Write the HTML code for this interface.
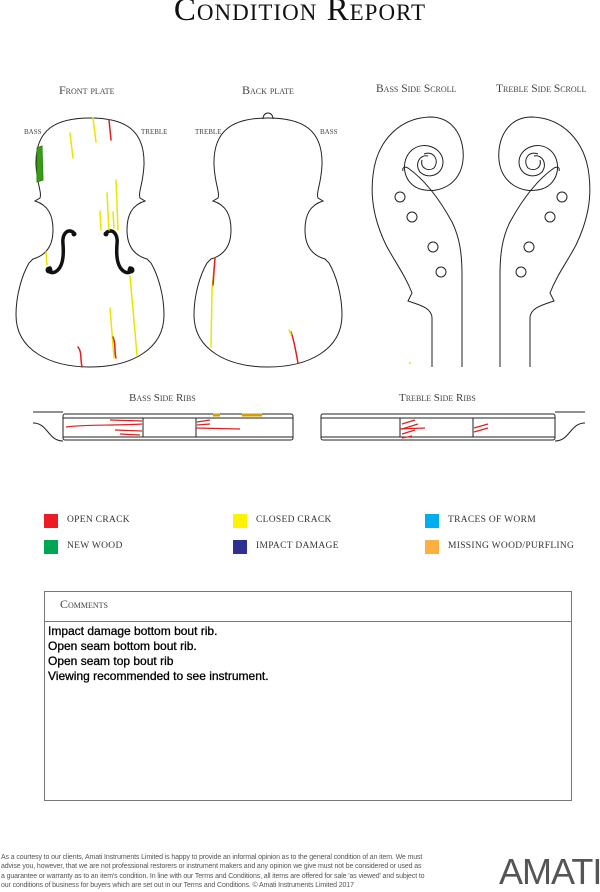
<!DOCTYPE html>
<html><head><meta charset="utf-8"><style>
html,body{margin:0;padding:0;background:#fff;}
body{width:600px;height:890px;position:relative;overflow:hidden;font-family:"Liberation Serif",serif;}
.sc{font-variant:small-caps;color:#444;position:absolute;white-space:nowrap;}
.t{position:absolute;}
.sq{position:absolute;width:14px;height:14px;}
.lg{position:absolute;font-family:"Liberation Serif",serif;font-size:9.5px;color:#333;letter-spacing:0.3px;}
</style></head><body>
<div class="sc" style="left:0;width:600px;text-align:center;top:-8px;font-size:33px;color:#111;letter-spacing:1px;">Condition Report</div>
<div class="sc" style="left:59px;top:83px;font-size:12px;">Front plate</div>
<div class="sc" style="left:242px;top:83px;font-size:12px;">Back plate</div>
<div class="sc" style="left:376px;top:83px;font-size:11.5px;">Bass Side Scroll</div>
<div class="sc" style="left:496px;top:83px;font-size:11.5px;">Treble Side Scroll</div>
<div class="sc" style="left:24px;top:128px;font-size:7px;">BASS</div>
<div class="sc" style="left:141px;top:128px;font-size:7px;">TREBLE</div>
<div class="sc" style="left:195px;top:128px;font-size:7px;">TREBLE</div>
<div class="sc" style="left:320px;top:128px;font-size:7px;">BASS</div>
<div class="sc" style="left:129px;top:392px;font-size:11px;">Bass Side Ribs</div>
<div class="sc" style="left:399px;top:392px;font-size:11px;">Treble Side Ribs</div>

<svg width="600" height="890" style="position:absolute;left:0;top:0" xmlns="http://www.w3.org/2000/svg">
<defs>
<path id="vio" d="M90 118 C125 118 145 130 144 165 C143 185 138 192 140 198 L145 201 C132 205 127 215 127 230 C127 245 133 255 147 259 L151 263 C158 275 164 295 164 315 C164 350 130 367 90 367 C50 367 16 350 16 315 C16 295 22 275 29 263 L33 259 C47 255 53 245 53 230 C53 215 48 205 35 201 L40 198 C42 192 37 185 36 165 C35 130 55 118 90 118 Z" fill="none" stroke="#222" stroke-width="1"/>
<g id="scroll" fill="none" stroke="#222" stroke-width="1">
<path d="M432 367 L432 318 C432 308 420 305 408 301 L412 293 C405 275 395 262 386 245 C375 222 370 200 373 175 C377 140 400 118 430 117 C455 117 465 140 463 160 C461 183 440 195 420 189 C402 183 400 160 412 150 C424 140 443 148 443 162 C443 175 428 180 420 172 C414 164 420 154 428 156"/>
<path d="M424 154 C433 150 440 160 434 168 C428 172 420 168 422 160"/>
<path d="M403 171 C402 168 404 166 408 168 C425 180 440 200 452 222 C460 238 462 255 462 275 L462 367"/>
<circle cx="400" cy="197" r="5"/><circle cx="412" cy="217" r="5"/><circle cx="433" cy="247" r="5"/><circle cx="441" cy="272" r="5"/>
</g>
</defs>
<use href="#vio"/>
<use href="#vio" transform="translate(178,0)"/>
<path d="M263 119 C263 111 273 111 273 119" fill="none" stroke="#222"/>
<g fill="none" stroke="#111" stroke-width="3.5" stroke-linecap="round">
<path d="M73 232 C66 228 62 236 63 244 C64 256 63 268 55 272 C50 274 47 270 50 268"/>
<path d="M107 232 C114 228 118 236 117 244 C116 256 117 268 125 272 C130 274 133 270 130 268"/>
</g>
<circle cx="74" cy="234" r="2.5" fill="#111"/><circle cx="49" cy="270" r="3.5" fill="#111"/>
<circle cx="106" cy="234" r="2.5" fill="#111"/><circle cx="131" cy="270" r="3.5" fill="#111"/>
<g fill="none" stroke-width="1.5" stroke-linecap="round">
<path d="M93 118 L96 142" stroke="#e8e600"/>
<path d="M70 133 L73 158" stroke="#e8e600"/>
<path d="M116 180 L118 230" stroke="#e8e600"/>
<path d="M107 193 L109 230" stroke="#e8e600"/>
<path d="M100 211 L101 230" stroke="#e8e600"/>
<path d="M113 212 L114 228" stroke="#e8e600"/>
<path d="M46 252 L47 265" stroke="#e8e600"/>
<path d="M130 276 L137 355" stroke="#e8e600"/>
<path d="M110 308 L114 358" stroke="#e8e600"/>
<path d="M109 120 L111 140" stroke="#e02020"/>
<path d="M78 347 C82 352 80 357 82 367" stroke="#e02020"/>
<path d="M113 337 C116 343 114 350 116 358" stroke="#e02020"/>
<path d="M215 258 L212 290 L211 347" stroke="#e8e600"/>
<path d="M215 258 L213 285" stroke="#e02020"/>
<path d="M291 332 C294 340 296 352 298 363" stroke="#e02020"/>
<path d="M289 330 L291 334" stroke="#e8e600"/>
</g>
<path d="M37 148 L42 146 L43 180 L37 182 Z" fill="#3a9a1a" stroke="#2f8a10" stroke-width="1"/>
<circle cx="410" cy="363" r="1" fill="#e8e600"/>
<use href="#scroll"/>
<use href="#scroll" transform="translate(962,0) scale(-1,1)"/>
<g fill="none" stroke="#222" stroke-width="1">
<rect x="63" y="414" width="230" height="26" rx="2"/>
<line x1="63" y1="418" x2="293" y2="418"/><line x1="63" y1="437" x2="293" y2="437"/>
<line x1="143" y1="418" x2="143" y2="437"/><line x1="196" y1="418" x2="196" y2="437"/>
<path d="M33 412 L63 412"/><path d="M33 423 C48 423 48 441 63 441"/>
<rect x="321" y="414" width="234" height="26" rx="2"/>
<line x1="321" y1="418" x2="555" y2="418"/><line x1="321" y1="437" x2="555" y2="437"/>
<line x1="400" y1="418" x2="400" y2="437"/><line x1="473" y1="418" x2="473" y2="437"/>
<path d="M585 412 L555 412"/><path d="M585 423 C570 423 570 441 555 441"/>
</g>
<g fill="none" stroke="#e02020" stroke-width="1.2">
<path d="M66 427 C90 424 110 426 142 424"/><path d="M110 420 L142 421"/><path d="M115 430 L142 431"/><path d="M120 434 L140 435"/>
<path d="M196 428 L240 429"/><path d="M197 422 L210 420"/><path d="M197 425 L210 424"/>
<path d="M402 424 L415 420 M402 429 L418 424 M402 434 L415 430 M402 438 L412 436"/>
<path d="M400 429 L425 428"/><path d="M474 428 L488 424 M474 432 L488 428"/>
</g>
<path d="M213 415 L220 415 M242 415 L262 415" stroke="#d0a000" stroke-width="3"/>
</svg>

<div class="sq" style="left:44px;top:514px;background:#ec1c24"></div><div class="lg" style="left:67px;top:515px;">OPEN CRACK</div>
<div class="sq" style="left:233px;top:514px;background:#fff200"></div><div class="lg" style="left:256px;top:515px;">CLOSED CRACK</div>
<div class="sq" style="left:425px;top:514px;background:#00aeef"></div><div class="lg" style="left:448px;top:515px;">TRACES OF WORM</div>
<div class="sq" style="left:44px;top:540px;background:#00a651"></div><div class="lg" style="left:67px;top:541px;">NEW WOOD</div>
<div class="sq" style="left:233px;top:540px;background:#2e3192"></div><div class="lg" style="left:256px;top:541px;">IMPACT DAMAGE</div>
<div class="sq" style="left:425px;top:540px;background:#fbb040"></div><div class="lg" style="left:448px;top:541px;">MISSING WOOD/PURFLING</div>

<div style="position:absolute;left:44px;top:591px;width:526px;height:208px;border:1px solid #777;"></div>
<div style="position:absolute;left:44px;top:621px;width:527px;height:1px;background:#777;"></div>
<div class="sc" style="left:60px;top:597px;font-size:12px;">Comments</div>
<div class="t" style="left:48px;top:624px;font-family:'Liberation Sans',sans-serif;font-size:12px;line-height:15px;color:#000;-webkit-text-stroke:0.3px #000;">Impact damage bottom bout rib.<br>Open seam bottom bout rib.<br>Open seam top bout rib<br>Viewing recommended to see instrument.</div>

<div class="t" style="left:1px;top:853px;white-space:nowrap;font-family:'Liberation Sans',sans-serif;font-size:7px;line-height:9.3px;letter-spacing:-0.12px;color:#555;">As a courtesy to our clients, Amati Instruments Limited is happy to provide an informal opinion as to the general condition of an item. We must<br>advise you, however, that we are not professional restorers or instrument makers and any opinion we give must not be considered or used as<br>a guarantee or warranty as to an item's condition. In line with our Terms and Conditions, all items are offered for sale 'as viewed' and subject to<br>our conditions of business for buyers which are set out in our Terms and Conditions. © Amati Instruments Limited 2017</div>
<div class="t" style="left:499px;top:852px;font-family:'Liberation Sans',sans-serif;font-size:36px;line-height:40px;color:#555;letter-spacing:-1px;">AMATI</div>
</body></html>
